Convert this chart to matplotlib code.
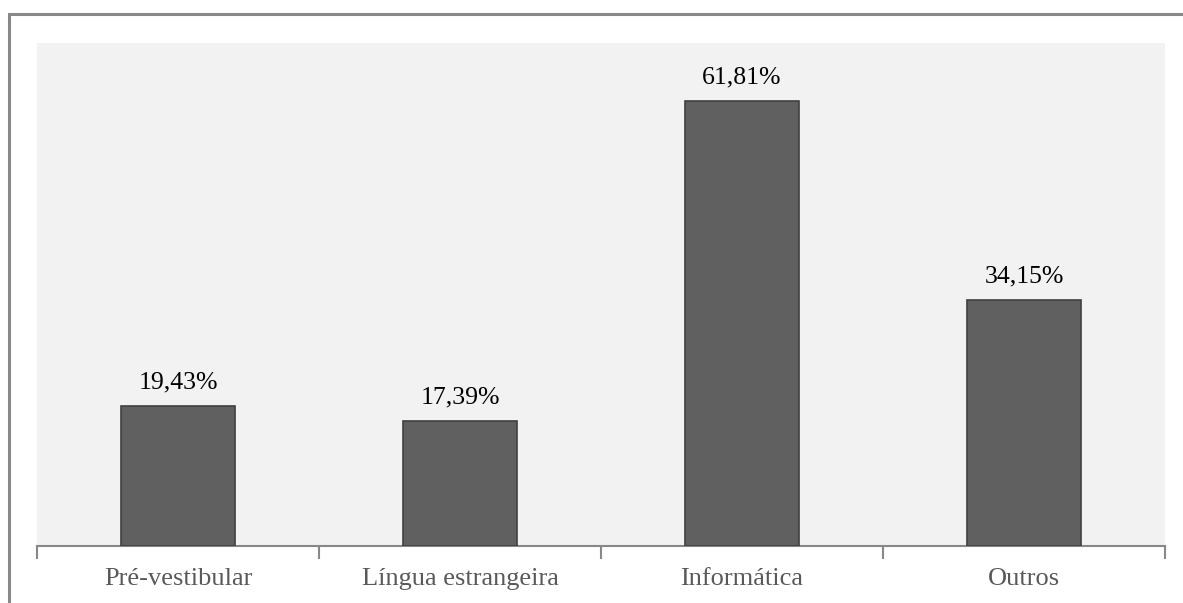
import matplotlib.pyplot as plt
from matplotlib.patches import Rectangle

categorias = ['Pré-vestibular', 'Língua estrangeira', 'Informática', 'Outros']
valores = [19.43, 17.39, 61.81, 34.15]
rotulos = ['19,43%', '17,39%', '61,81%', '34,15%']

plt.rcParams['font.family'] = ['Liberation Serif', 'DejaVu Serif']

W, H = 1183, 603
fig = plt.figure(figsize=(W / 100, H / 100), dpi=100)
ax = fig.add_axes([37 / W, (H - 546) / H, (1165 - 37) / W, (546 - 43) / H])
ax.set_facecolor('#f2f2f2')

# moldura cinza do gráfico (cortada à direita e embaixo)
fig.patches.append(Rectangle((8.5 / W, -0.2), 1.2, 1.2 - 14 / H,
                             transform=fig.transFigure, fill=False,
                             edgecolor='#888888', linewidth=2.2))

x = range(len(categorias))
bars = ax.bar(x, valores, width=0.405, color='#606060', edgecolor='#404040',
              linewidth=1.2, zorder=3)
for b, r in zip(bars, rotulos):
    ax.annotate(r, (b.get_x() + b.get_width() / 2, b.get_height()),
                xytext=(0, 9), textcoords='offset points', ha='center',
                va='bottom', fontsize=18.5, color='black')

ax.set_xlim(-0.5, len(categorias) - 0.5)
ax.set_ylim(0, 69.9)
ax.set_yticks([])
ax.set_xticks(list(x))
ax.set_xticklabels(categorias, fontsize=19, color='#595959')
ax.tick_params(axis='x', which='major', length=0, pad=16)
ax.set_xticks([i - 0.5 for i in range(len(categorias) + 1)], minor=True)
ax.tick_params(axis='x', which='minor', length=9, width=1.5, color='#888888')

for s in ['top', 'right', 'left']:
    ax.spines[s].set_visible(False)
ax.spines['bottom'].set_color('#888888')
ax.spines['bottom'].set_linewidth(1.5)

fig.savefig('out.png', dpi=100)
